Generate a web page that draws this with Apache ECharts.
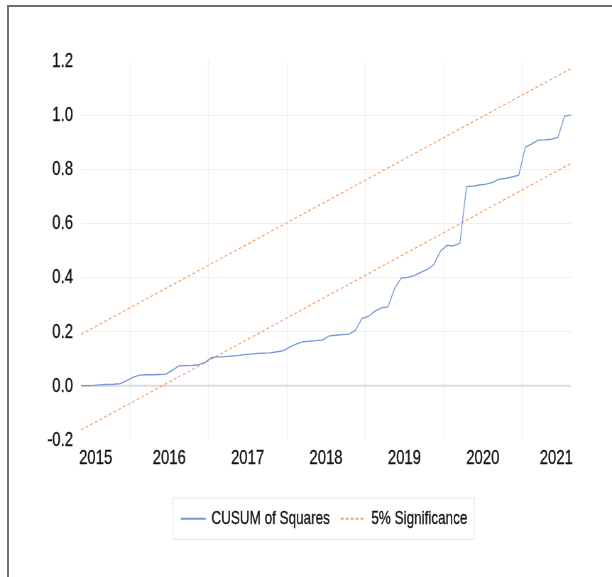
<!DOCTYPE html>
<html>
<head>
<meta charset="utf-8">
<script src="https://cdn.jsdelivr.net/npm/echarts@6/dist/echarts.min.js"></script>
<style>
  html, body { margin: 0; padding: 0; background: #fff; overflow: hidden; }
  #frame { position: absolute; left: 7px; top: 5px; width: 620px; height: 590px;
           border-top: 2px solid #6e6e6e; border-left: 2px solid #6e6e6e; }
  #chart { position: absolute; left: 0; top: 0; height: 577px; transform-origin: 0 0; }
</style>
</head>
<body>
<div id="frame"></div>
<div id="chart"></div>
<script>
// Monthly sample: first observation and CUSUM of squares statistic
const startYear = 2015;
const startMonth = 5; // May
const cusumSq = [
  0.000, 0.001, 0.002, 0.004, 0.005, 0.006, 0.008, 0.019, 0.032, 0.040,
  0.041, 0.041, 0.042, 0.043, 0.058, 0.074, 0.075, 0.076, 0.078, 0.087,
  0.105, 0.107, 0.108, 0.110, 0.112, 0.115, 0.117, 0.120, 0.121, 0.122,
  0.126, 0.130, 0.144, 0.155, 0.163, 0.165, 0.167, 0.170, 0.185, 0.187,
  0.189, 0.191, 0.205, 0.249, 0.257, 0.276, 0.288, 0.292, 0.360, 0.398,
  0.401, 0.407, 0.419, 0.430, 0.448, 0.497, 0.519, 0.517, 0.527, 0.736,
  0.738, 0.742, 0.745, 0.752, 0.764, 0.766, 0.772, 0.778, 0.882, 0.894,
  0.908, 0.909, 0.911, 0.918, 0.996, 1.000
];
// 5% significance bounds at the first and last observation
const upperBound = [0.190, 1.172];
const lowerBound = [-0.163, 0.822];
// Axis ticks
const yearLabels = ['2015', '2016', '2017', '2018', '2019', '2020', '2021'];
const yearBoundaries = [2016, 2017, 2018, 2019, 2020, 2021];
const yTicks = { min: -0.2, max: 1.2, step: 0.2 };

// The graph is laid out wide and then condensed horizontally,
// which gives the narrow lettering of the original export.
const SQUEEZE = 0.71;
const W = 612;
const px = v => v / SQUEEZE; // horizontal size in layout units

const el = document.getElementById('chart');
el.style.width = px(W) + 'px';
el.style.transform = 'scaleX(' + SQUEEZE + ')';

// Month i sits in the middle of its month on a decimal-year scale
function monthPos(i) {
  const m = (startMonth - 1) + i;
  return startYear + m / 12 + 1 / 24;
}
const xs = cusumSq.map((_, i) => monthPos(i));
const xMin = xs[0];
const xMax = xs[xs.length - 1];

// Year labels sit in the middle of each year, pulled inside the sample at the ends
const labelPos = yearLabels.map((y, k) => {
  let p = +y + 0.5;
  if (k === 0) p = Math.max(p, xMin + 0.1875);
  if (k === yearLabels.length - 1) p = Math.min(p, xMax - 0.1875);
  return p;
});

const FONT = '"Liberation Sans", Arial, sans-serif';
const INK = '#141414';
const BLUE = '#7598d4';
const ORANGE = '#f0a26e';
const inkText = { color: INK, textBorderColor: INK, textBorderWidth: 0.35 };

const chart = echarts.init(el, null, { renderer: 'canvas' });
chart.setOption({
  animation: false,
  backgroundColor: 'transparent',
  textStyle: { fontFamily: FONT },
  grid: { left: px(81), right: px(41), top: 61, bottom: 137, containLabel: false },
  legend: {
    data: ['CUSUM of Squares', '5% Significance'],
    left: px(173), top: 498,
    orient: 'horizontal',
    itemWidth: px(25), itemHeight: 12, itemGap: px(10),
    padding: [11, px(7), 11, px(7)],
    borderColor: '#e6e6e6', borderWidth: 1,
    backgroundColor: '#fff',
    itemStyle: { opacity: 0, borderWidth: 0 },
    textStyle: Object.assign({ fontFamily: FONT, fontSize: 19, padding: [0, 0, 0, 3] }, inkText)
  },
  xAxis: {
    type: 'value',
    min: xMin, max: xMax,
    axisLine: { show: false },
    axisTick: { show: false, customValues: yearBoundaries },
    splitLine: { show: true, lineStyle: { color: '#f0f0f0', width: 1.3 } },
    axisLabel: Object.assign({
      customValues: labelPos,
      formatter: v => String(Math.floor(v)),
      fontFamily: FONT, fontSize: 21, margin: 8
    }, inkText)
  },
  yAxis: {
    type: 'value',
    min: yTicks.min, max: yTicks.max, interval: yTicks.step,
    axisLine: { show: false },
    axisTick: { show: false },
    splitLine: { show: true, showMinLine: false, showMaxLine: false,
                 lineStyle: { color: '#efefef', width: 1 } },
    axisLabel: Object.assign({
      formatter: v => v.toFixed(1),
      fontFamily: FONT, fontSize: 21, margin: px(8),
      padding: [0, 0, 8, 0]
    }, inkText)
  },
  series: [
    {
      // zero reference line
      name: 'zero',
      type: 'line',
      symbol: 'none',
      silent: true,
      z: 1,
      lineStyle: { color: '#dedede', width: 2 },
      data: [[xMin, 0], [xMax, 0]]
    },
    {
      name: 'CUSUM of Squares',
      type: 'line',
      symbol: 'none',
      z: 3,
      lineStyle: { color: BLUE, width: 1.3 },
      itemStyle: { color: BLUE },
      data: xs.map((x, i) => [x, cusumSq[i]])
    },
    {
      name: '5% Significance',
      type: 'line',
      symbol: 'none',
      z: 2,
      lineStyle: { color: ORANGE, width: 1.2, type: [4, 3] },
      itemStyle: { color: ORANGE },
      data: [[xMin, upperBound[0]], [xMax, upperBound[1]]]
    },
    {
      name: '5% Significance',
      type: 'line',
      symbol: 'none',
      z: 2,
      lineStyle: { color: ORANGE, width: 1.2, type: [4, 3] },
      itemStyle: { color: ORANGE },
      data: [[xMin, lowerBound[0]], [xMax, lowerBound[1]]]
    }
  ]
});
</script>
</body>
</html>
